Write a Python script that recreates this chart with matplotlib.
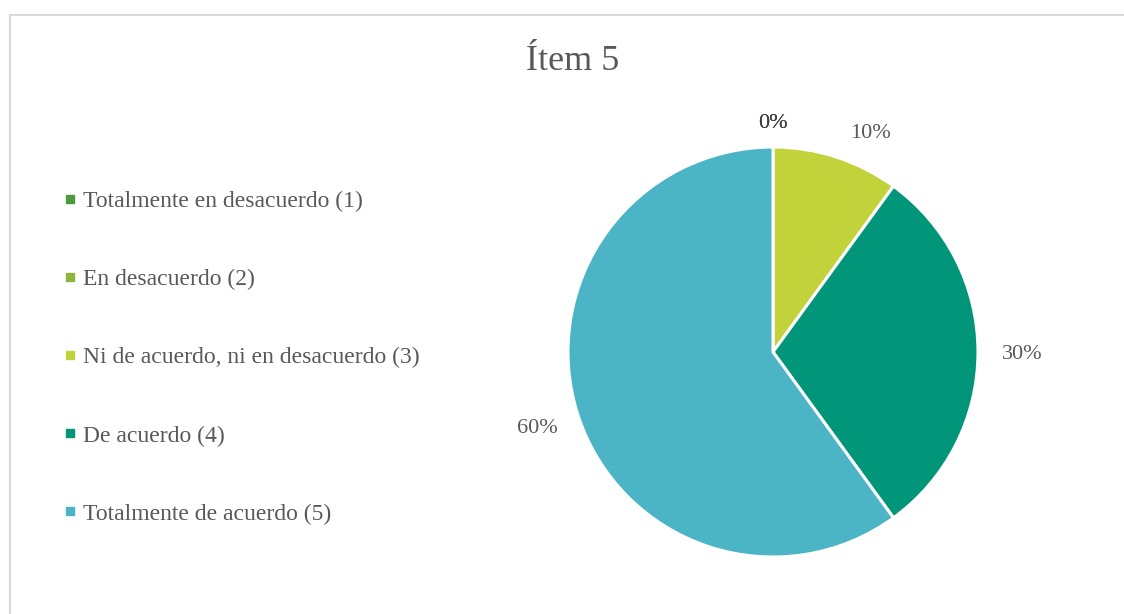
import matplotlib
matplotlib.use("Agg")
import matplotlib.pyplot as plt
from matplotlib.lines import Line2D
from matplotlib.patches import Rectangle
import numpy as np

categories = [
    "Totalmente en desacuerdo (1)",
    "En desacuerdo (2)",
    "Ni de acuerdo, ni en desacuerdo (3)",
    "De acuerdo (4)",
    "Totalmente de acuerdo (5)",
]
values = [0, 0, 10, 30, 60]
colors = ["#4f9a3e", "#8cb53a", "#c2d23b", "#01967a", "#4bb4c5"]
title = "Ítem 5"

plt.rcParams["font.family"] = ["Liberation Serif", "DejaVu Serif"]
text_color = "#595959"

W, H = 1124, 614
fig = plt.figure(figsize=(W / 100, H / 100), dpi=100)
fig.patch.set_facecolor("white")

# chart-area frame
fig.patches.append(Rectangle((10 / W, -0.1), 1.2, 1 - 15 / H + 0.1,
                             transform=fig.transFigure, fill=False,
                             edgecolor="#d9d9d9", linewidth=1.5))

cx, cy, r = 773 / W, 1 - 352 / H, 205
ax = fig.add_axes([cx - r / W, cy - r / H, 2 * r / W, 2 * r / H])
wedges, _ = ax.pie(values, colors=colors, startangle=90, counterclock=False,
                   radius=1.0, wedgeprops=dict(edgecolor="white", linewidth=2.2))
ax.set_xlim(-1, 1)
ax.set_ylim(-1, 1)
ax.set_aspect("equal")
ax.axis("off")

# percentage labels outside the slices (radial distance, angular nudge in degrees)
total = sum(values)
angle = 90.0
placement = [(1.115, 0), (1.115, 0), (1.165, -6), (1.215, -0.5), (1.21, 0)]
for v, (d, nudge) in zip(values, placement):
    span = 360.0 * v / total
    mid = np.deg2rad(angle - span / 2 + nudge)
    angle -= span
    ax.text(d * np.cos(mid), d * np.sin(mid), f"{v}%", ha="center", va="center",
            fontsize=16, color="#404040" if v == 0 else text_color, clip_on=False)

fig.text(573 / W, 1 - 61 / H, title, ha="center", va="center",
         fontsize=26, color=text_color)

handles = [Line2D([0], [0], marker="s", linestyle="none", markersize=5.5,
                  markerfacecolor=c, markeredgecolor=c) for c in colors]
fig.legend(handles, categories, loc="upper left",
           bbox_to_anchor=(55 / W, 1 - 181 / H), frameon=False,
           fontsize=17, labelcolor=text_color, handlelength=0.5,
           handletextpad=0.3, labelspacing=2.4, borderaxespad=0)

fig.savefig("out.png", dpi=100, facecolor="white")
